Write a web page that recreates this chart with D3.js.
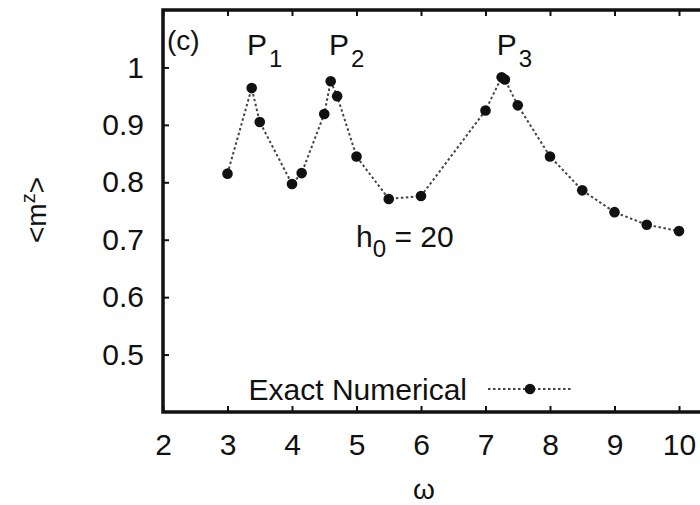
<!DOCTYPE html>
<html>
<head>
<meta charset="utf-8">
<script src="https://cdn.jsdelivr.net/npm/d3@7"></script>
<style>
  body { margin: 0; background: #fff; }
  text { font-family: "Liberation Sans", Arial, Helvetica, sans-serif; fill: #111; }
</style>
</head>
<body>
<div id="chart"></div>
<script>
// omega values and <m^z>
var omega = [3, 3.375, 3.5, 4, 4.15, 4.5, 4.6, 4.7, 5, 5.5, 6, 7, 7.25, 7.3, 7.5, 8, 8.5, 9, 9.5, 10];
var mz = [0.815, 0.964, 0.905, 0.797, 0.816, 0.919, 0.976, 0.950, 0.845, 0.771, 0.776, 0.925, 0.983, 0.979, 0.934, 0.845, 0.786, 0.748, 0.726, 0.715];
var xTicks = [2, 3, 4, 5, 6, 7, 8, 9, 10];
var yTicks = [0.5, 0.6, 0.7, 0.8, 0.9, 1];
var peakLabels = [{name: "P", sub: "1", w: 3.35}, {name: "P", sub: "2", w: 4.62}, {name: "P", sub: "3", w: 7.22}];

var W = 700, H = 505;
var margin = {top: 10, left: 163, bottom: 93};

var svg = d3.select("#chart")
    .append("svg")
    .attr("width", W)
    .attr("height", H);

svg.append("rect").attr("width", W).attr("height", H).attr("fill", "#fff");

// x axis runs past the right edge of the picture (cropped)
var x = d3.scaleLinear()
    .domain([2, 11])
    .range([margin.left, margin.left + 9 * 64.5]);

var y = d3.scaleLinear()
    .domain([0.4, 1.1])
    .range([H - margin.bottom, margin.top]);

var fs = 30;

// bottom axis
svg.append("g")
    .attr("transform", "translate(0," + y(0.4) + ")")
    .call(d3.axisBottom(x).tickValues(xTicks).tickSize(-6).tickPadding(22).tickFormat(d3.format("d")));

// top ticks
svg.append("g")
    .attr("transform", "translate(0," + y(1.1) + ")")
    .call(d3.axisTop(x).tickValues(xTicks).tickSize(-6).tickFormat(""));

// left axis
svg.append("g")
    .attr("transform", "translate(" + x(2) + ",0)")
    .call(d3.axisLeft(y).tickValues(yTicks).tickSize(-6).tickPadding(19)
        .tickFormat(function (d) { return d === 1 ? "1" : d3.format(".1f")(d); }));

svg.selectAll(".domain").remove();
svg.selectAll(".tick line").attr("stroke", "#111").attr("stroke-width", 2);
svg.selectAll(".tick text")
    .attr("font-size", fs)
    .attr("font-family", "Liberation Sans, Arial, sans-serif")
    .attr("fill", "#111");

// frame
svg.append("rect")
    .attr("x", x(2))
    .attr("y", y(1.1))
    .attr("width", x(11) - x(2))
    .attr("height", y(0.4) - y(1.1))
    .attr("fill", "none")
    .attr("stroke", "#111")
    .attr("stroke-width", 3.5);

// data line
var line = d3.line()
    .x(function (d, i) { return x(omega[i]); })
    .y(function (d) { return y(d); });

svg.append("path")
    .datum(mz)
    .attr("d", line)
    .attr("fill", "none")
    .attr("stroke", "#444")
    .attr("stroke-width", 2)
    .attr("stroke-dasharray", "2.5,2.5");

svg.selectAll(".pt")
    .data(mz)
    .enter()
    .append("circle")
    .attr("class", "pt")
    .attr("cx", function (d, i) { return x(omega[i]); })
    .attr("cy", function (d) { return y(d); })
    .attr("r", 5.3)
    .attr("fill", "#111");

// panel label
svg.append("text")
    .attr("x", 167)
    .attr("y", 50)
    .attr("font-size", 28)
    .text("(c)");

// peak labels
peakLabels.forEach(function (p) {
    var t = svg.append("text")
        .attr("x", x(p.w) - 3)
        .attr("y", 55)
        .attr("font-size", fs);
    t.append("tspan").text(p.name);
    t.append("tspan").attr("dy", 12).attr("dx", 2).attr("font-size", 24).text(p.sub);
});

// h0 annotation
var h = svg.append("text")
    .attr("x", 356)
    .attr("y", 247)
    .attr("font-size", fs);
h.append("tspan").text("h");
h.append("tspan").attr("dy", 10).attr("font-size", 24).text("0");
h.append("tspan").attr("dy", -10).text(" = 20");

// legend
svg.append("text")
    .attr("x", 467)
    .attr("y", 400)
    .attr("text-anchor", "end")
    .attr("font-size", 30)
    .text("Exact Numerical");

svg.append("line")
    .attr("x1", 488).attr("x2", 572)
    .attr("y1", 389).attr("y2", 389)
    .attr("stroke", "#444")
    .attr("stroke-width", 2)
    .attr("stroke-dasharray", "2.5,2.5");

svg.append("circle")
    .attr("cx", 530).attr("cy", 389)
    .attr("r", 5.3)
    .attr("fill", "#111");

// axis titles
svg.append("text")
    .attr("x", 424)
    .attr("y", 499)
    .attr("text-anchor", "middle")
    .attr("font-family", "Liberation Serif, serif")
    .attr("font-size", 28)
    .text("ω");

var yl = svg.append("text")
    .attr("transform", "translate(46,210) rotate(-90)")
    .attr("text-anchor", "middle")
    .attr("font-size", 28);
yl.append("tspan").text("<m");
yl.append("tspan").attr("dy", -11).attr("font-size", 20).text("z");
yl.append("tspan").attr("dy", 11).text(">");
</script>
</body>
</html>
